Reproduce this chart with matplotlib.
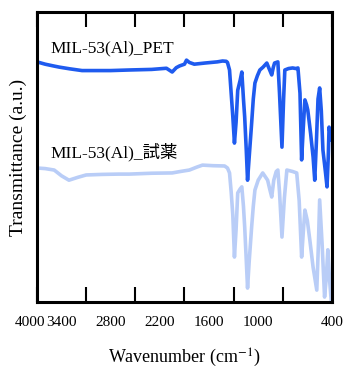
import matplotlib
matplotlib.use('Agg')
import matplotlib.pyplot as plt
import matplotlib.transforms as mtransforms

# Spectra (wavenumber in cm-1, transmittance in a.u.)
wn_pet = [4000, 3900, 3800, 3730, 3600, 3450, 3280, 3100, 2875, 2600, 2420, 2350,
          2300, 2260, 2200, 2175, 2140, 2080, 1950, 1800, 1735, 1690, 1675, 1650,
          1630, 1610, 1590, 1570, 1550, 1520, 1500, 1480, 1465, 1445, 1430, 1410,
          1380, 1360, 1340, 1310, 1280, 1240, 1195, 1160, 1135, 1115, 1100, 1060,
          1040, 1010, 990, 975, 930, 880, 840, 815, 790, 770, 750, 730, 710, 695,
          660, 630, 610, 590, 570, 550, 530, 510, 480, 460, 445, 435, 420, 410]
t_pet = [82.8, 82.0, 81.4, 81.0, 80.4, 79.8, 79.8, 79.8, 80.0, 80.2, 80.6, 79.3,
         80.8, 81.4, 82.0, 83.4, 82.6, 82.0, 82.4, 82.8, 83.1, 83.0, 82.6, 80.0,
         72.0, 64.0, 54.8, 62.0, 73.0, 76.5, 79.3, 70.0, 63.8, 52.0, 42.0, 50.0,
         61.7, 70.0, 75.5, 78.0, 80.0, 81.0, 82.4, 80.0, 78.3, 81.0, 82.4, 82.8,
         72.0, 53.4, 70.0, 80.0, 80.5, 80.7, 80.5, 80.7, 72.0, 49.0, 60.0, 69.7,
         68.0, 66.2, 58.0, 50.0, 42.0, 55.0, 70.0, 73.8, 66.0, 52.4, 45.0, 39.7,
         50.0, 60.3, 58.0, 56.0]

wn_ref = [4000, 3900, 3790, 3700, 3610, 3500, 3400, 3200, 3000, 2875, 2600, 2350,
          2250, 2140, 2050, 1980, 1850, 1710, 1675, 1650, 1630, 1610, 1590, 1570,
          1550, 1520, 1500, 1480, 1465, 1445, 1430, 1410, 1380, 1360, 1340, 1300,
          1245, 1185, 1160, 1135, 1110, 1080, 1060, 1040, 1010, 980, 950, 880, 830,
          800, 770, 750, 730, 700, 670, 630, 585, 565, 550, 520, 490, 470, 450,
          430, 410]
t_ref = [46.2, 46.0, 45.5, 43.5, 42.0, 43.0, 43.8, 44.0, 44.1, 44.1, 44.4, 44.5,
         45.0, 45.5, 46.5, 47.2, 47.0, 46.9, 46.2, 44.5, 38.0, 30.0, 15.5, 25.0,
         37.6, 39.0, 39.7, 33.0, 25.9, 14.0, 4.8, 14.0, 25.9, 33.0, 38.6, 42.0,
         44.5, 42.0, 39.0, 36.2, 42.0, 45.0, 45.5, 38.0, 22.4, 36.0, 45.5, 45.0,
         44.5, 35.0, 15.5, 24.0, 31.7, 28.0, 21.4, 12.0, 4.1, 20.0, 35.2, 20.0,
         1.7, 8.0, 18.0, 8.0, 1.0]

label_pet = 'MIL-53(Al)_PET'
label_ref = 'MIL-53(Al)_試薬'

tick_vals = [4000, 3400, 2800, 2200, 1600, 1000, 400]
tick_labels = ['4000', '3400', '2800', '2200', '1600', '1000', '400']
# labels sit half a step left of their tick in the original figure
tick_label_pos = [4080, 3700, 3100, 2500, 1900, 1300, 400]

plt.rcParams['font.family'] = ['Liberation Serif', 'Noto Sans CJK JP']
plt.rcParams['mathtext.fontset'] = 'stix'

fig = plt.figure(figsize=(3.47, 3.69), dpi=100)
ax = fig.add_axes([0.1066, 0.1816, 0.85, 0.7859])

ax.plot(wn_pet, t_pet, color='#1f5bef', lw=2.6, solid_joinstyle='round')
ax.plot(wn_ref, t_ref, color='#b9cdf7', lw=2.6, solid_joinstyle='round')

ax.set_xlim(4000, 400)
ax.set_ylim(0, 100)
ax.set_yticks([])

ax.set_xticks(tick_vals, [''] * len(tick_vals))
ax.tick_params(axis='x', direction='in', length=11, width=1.5, top=True, bottom=True)

trans = mtransforms.blended_transform_factory(ax.transData, ax.transAxes)
for pos, lab in zip(tick_label_pos, tick_labels):
    ax.text(pos, -0.05, lab, transform=trans, fontsize=11, ha='center', va='top',
            clip_on=False)

for s in ax.spines.values():
    s.set_linewidth(2.2)

ax.set_xlabel('Wavenumber (cm$^{-1}$)', fontsize=13, labelpad=29)
ax.set_ylabel('Transmittance (a.u.)', fontsize=14, labelpad=7)

ax.text(0.047, 0.859, label_pet, transform=ax.transAxes, fontsize=12.5, va='baseline')
ax.text(0.047, 0.497, label_ref, transform=ax.transAxes, fontsize=12.5, va='baseline')

fig.savefig('out.png', dpi=100)
